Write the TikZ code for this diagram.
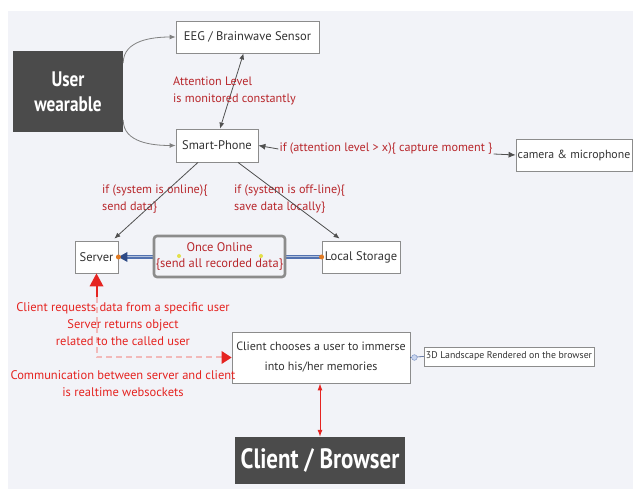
\documentclass[tikz,border=0pt]{standalone}
\usepackage{fontspec}
\setmainfont{PT Sans}
\newfontfamily\headfont{PT Sans Bold}[FakeStretch=0.82]
\usetikzlibrary{arrows.meta,calc}

\definecolor{canvas}{HTML}{F2F3F8}
\definecolor{boxline}{HTML}{8C8C8C}
\definecolor{darkfill}{HTML}{4B4B4B}
\definecolor{noteRed}{HTML}{B8272C}
\definecolor{alertRed}{HTML}{E52421}
\definecolor{linkGrey}{HTML}{505050}
\definecolor{pipeBlue}{HTML}{5372B0}
\definecolor{pipeDark}{HTML}{2E4A86}
\definecolor{dotOrange}{HTML}{E07A22}
\definecolor{dotYellow}{HTML}{E3E04A}
\definecolor{dashPink}{HTML}{F2B9B9}
\definecolor{hubBlue}{HTML}{C9D5EE}
\definecolor{hubLine}{HTML}{7F97C8}

\tikzset{
  plainbox/.style={draw=boxline, fill=white, line width=0.8pt, inner sep=0pt,
    font=\fontsize{12.5}{15}\selectfont, text=black!80, align=center},
  headbox/.style={fill=darkfill, inner sep=0pt, text=white, align=center},
  note/.style={text=noteRed, inner sep=1pt, font=\fontsize{12.2}{17}\selectfont},
  alert/.style={text=alertRed, inner sep=1pt, align=center, font=\fontsize{12.5}{17}\selectfont},
  link/.style={draw=linkGrey, line width=0.8pt, -{Latex[length=6pt,width=5pt]}},
}

\begin{document}
\begin{tikzpicture}[x=1pt,y=-1pt]
\useasboundingbox (0,0) rectangle (633,489);
\fill[canvas] (8,11) rectangle (633,489);

% main boxes
\node[headbox, minimum width=110pt, minimum height=81pt,
      font=\headfont\fontsize{21}{25}\selectfont] (wear) at (68,91.5) {User\\wearable};
\node[plainbox, minimum width=143pt, minimum height=32pt] (eeg) at (247.5,37) {EEG / Brainwave Sensor};
\node[plainbox, minimum width=82pt, minimum height=33pt] (phone) at (217,145.5) {Smart-Phone};
\node[plainbox, minimum width=116pt, minimum height=32pt,
      font=\fontsize{11.8}{14}\selectfont] (cam) at (574,155) {camera \& microphone};
\node[plainbox, minimum width=43pt, minimum height=32pt] (server) at (96.5,257) {Server};
\node[plainbox, minimum width=78pt, minimum height=32pt] (store) at (361,257) {Local Storage};
\node[plainbox, minimum width=178pt, minimum height=51pt,
      font=\fontsize{12}{20}\selectfont] (client) at (321,357.5) {Client chooses a user to immerse\\into his/her memories};
\node[plainbox, minimum width=170pt, minimum height=19pt,
      font=\fontsize{9.8}{12}\selectfont] (land) at (509,356.5) {3D Landscape Rendered on the browser};
\node[headbox, minimum width=170pt, minimum height=47pt,
      font=\headfont\fontsize{28}{30}\selectfont] (browser) at (320,460.5) {Client / Browser};

% wearable feeds both devices
\draw[link, draw=gray] ([yshift=28.5pt]wear.east) to[out=90,in=180] (eeg.west);
\draw[link, draw=gray] ([yshift=-28.5pt]wear.east) to[out=-90,in=180] (phone.west);

% attention level exchange
\draw[linkGrey, line width=0.8pt, {Latex[length=6pt,width=5pt]}-{Latex[length=6pt,width=5pt]}]
  ([xshift=-4pt]eeg.south) -- ([xshift=3pt]phone.north);
\node[note, anchor=west, align=left] (attn) at (172,91) {Attention Level\\is monitored constantly};

% capture condition
\node[note, inner sep=0pt] (cap) at (386,149) {if (attention level > x)\{ capture moment \}};
\draw[link, -{Latex[length=7pt,width=6pt]}] ([xshift=-1pt]cap.west) -- (phone.east);
\draw[link, -{Latex[length=7pt,width=6pt]}] ([xshift=1pt,yshift=-5pt]cap.east) -- (cam.west |- {(0,155)});

% online / offline branches
\node[note, anchor=west, align=left] (online) at (101,199) {if (system is online)\{\\send data\}};
\node[note, anchor=west, align=left] (offline) at (233,199) {if (system is off-line)\{\\save data locally\}};
\draw[link] ([xshift=-19pt]phone.south) -- ([xshift=-4pt,yshift=2pt]server.north east);
\draw[link] ([xshift=21pt]phone.south) -- ([xshift=18pt,yshift=2pt]store.north west);

% sync pipe from local storage to server
\draw[pipeBlue, line width=4pt] (store.west) -- ([xshift=8pt]server.east);
\draw[pipeBlue!45, line width=1pt] (store.west) -- ([xshift=8pt]server.east);
\fill[pipeDark] (server.east) -- ++(9,-5) -- ++(0,10) -- cycle;
\node[draw=boxline, line width=2.6pt, rounded corners=3pt, fill=canvas,
      minimum width=131pt, minimum height=41pt, inner sep=0pt, align=center,
      text=noteRed, font=\fontsize{12.5}{16}\selectfont] (once) at (219.5,256.5)
      {Once Online\\\{send all recorded data\}};
\fill[dotOrange] (server.east) circle (2.5pt);
\fill[dotOrange] (store.west) circle (2.5pt);
\fill[dotYellow] ([xshift=-40.5pt,yshift=0.5pt]once.center) circle (2pt);
\fill[dotYellow] ([xshift=41.5pt,yshift=0.5pt]once.center) circle (2pt);

% request / response between client and server
\draw[dashPink, line width=2pt, dash pattern=on 6pt off 4pt]
  ([yshift=-24pt]server.south) -- (server.south |- client.west) -- ([xshift=-10pt]client.west);
\draw[alertRed, line width=2pt] ([yshift=-13pt]server.south) -- ([yshift=-24pt]server.south);
\fill[alertRed] (server.south) -- ++(7,13) -- ++(-14,0) -- cycle;
\fill[alertRed] (client.west) -- ++(-10,-6.5) -- ++(0,13) -- cycle;
\node[alert] (req) at (123,324) {Client requests data from a specific user\\Server returns object\\related to the called user};
\node[alert] (ws) at (123,384) {Communication between server and client\\is realtime websockets};

% client to rendered landscape
\draw[pipeDark, line width=0.6pt] (client.east) -- (land.west);
\filldraw[fill=hubBlue, draw=hubLine, line width=0.5pt] ([xshift=4pt]client.east) circle (2.8pt);

% client to browser
\draw[alertRed, line width=1pt, {Latex[length=7pt,width=5pt]}-{Latex[length=7pt,width=5pt]}]
  ([xshift=-1pt]client.south) -- (browser.north);
\end{tikzpicture}
\end{document}
